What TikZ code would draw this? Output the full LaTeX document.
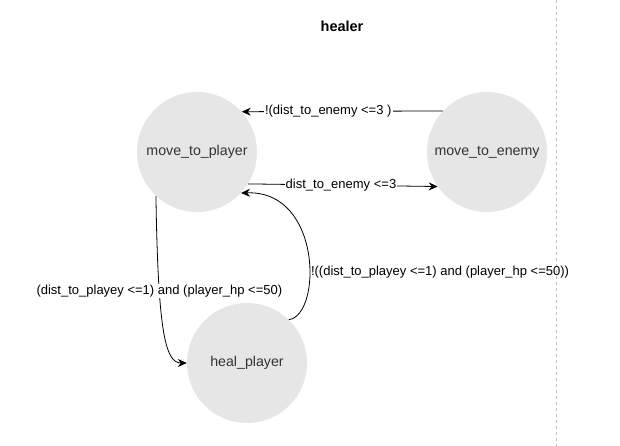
\documentclass[tikz,border=0pt]{standalone}
\usepackage{fontspec}
\setmainfont{Liberation Sans}
\usetikzlibrary{arrows.meta}
\definecolor{stategray}{HTML}{E6E6E6}
\definecolor{statetext}{HTML}{333333}
\tikzset{
  state/.style={circle, fill=stategray, minimum size=120pt, inner sep=0pt,
    text=statetext, font=\fontsize{14.2}{16}\selectfont},
  trans/.style={-{Stealth[length=9pt,width=8pt]}, line width=0.8pt},
  cond/.style={fill=white, inner sep=1pt, font=\fontsize{13}{15}\selectfont}
}
\begin{document}
\begin{tikzpicture}[x=1pt, y=-1pt]
  \useasboundingbox (0,0) rectangle (620,446);
  \draw[gray!50, dashed, line width=0.8pt] (556,0) -- (556,446);
  \node[font=\fontsize{14.5}{16}\selectfont\bfseries] (title) at (342,26) {healer};
  \node[state] (mtp) at (197,152) {move\_to\_player};
  \node[state] (mte) at (487,152) {move\_to\_enemy};
  \node[state] (hp) at (247,363) {heal\_player};
  % transitions
  \draw[trans] (mte.137) -- node[cond, pos=0.57] {!(dist\_to\_enemy <=3 )} (mtp.42);
  \draw[trans] (mtp.-32) -- node[cond, pos=0.49] {dist\_to\_enemy <=3} (mte.215);
  \draw[trans] (mtp.227) .. controls (158,330) and (165,363) ..
    node[cond, pos=0.3] {(dist\_to\_playey <=1) and (player\_hp <=50)} (hp.west);
  \draw[trans] (hp.46) .. controls (322,315) and (322,190) ..
    node[cond, pos=0.4, anchor=west, fill=none] {!((dist\_to\_playey <=1) and (player\_hp <=50))} (mtp.-43);
\end{tikzpicture}
\end{document}
